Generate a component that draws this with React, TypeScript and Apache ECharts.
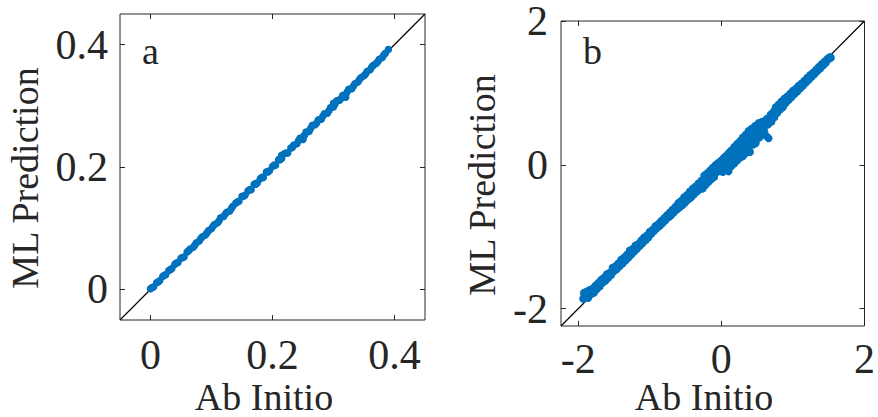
import React, { useEffect, useRef } from 'react';
import * as echarts from 'echarts';

// ---------- data ----------
const PANEL_LABELS = ['a', 'b'];
const X_TITLE = 'Ab Initio';
const Y_TITLE = 'ML Prediction';

const RANGE_A = [-0.05, 0.45];
const TICKS_A = [0, 0.2, 0.4];
const RANGE_B = [-2.24, 2];
const TICKS_B = [-2, 0, 2];

// panel a: [ab initio, ML prediction]
const POINTS_A = [
  [0, 0.001], [0.005, 0.004], [0.01, 0.011], [0.015, 0.014], [0.02, 0.021], [0.025, 0.024],
  [0.03, 0.031], [0.035, 0.034], [0.04, 0.041], [0.045, 0.044], [0.05, 0.051], [0.055, 0.053],
  [0.06, 0.061], [0.065, 0.066], [0.07, 0.069], [0.075, 0.076], [0.08, 0.079], [0.085, 0.086],
  [0.09, 0.089], [0.095, 0.096], [0.1, 0.099], [0.105, 0.106], [0.11, 0.109], [0.115, 0.117],
  [0.12, 0.119], [0.125, 0.126], [0.13, 0.128], [0.135, 0.136], [0.14, 0.141], [0.145, 0.144],
  [0.15, 0.152], [0.155, 0.154], [0.16, 0.161], [0.165, 0.163], [0.17, 0.172], [0.175, 0.174],
  [0.18, 0.181], [0.185, 0.183], [0.19, 0.192], [0.195, 0.194], [0.2, 0.201], [0.205, 0.203],
  [0.21, 0.212], [0.215, 0.214], [0.215, 0.219], [0.22, 0.222], [0.225, 0.223], [0.23, 0.231],
  [0.235, 0.236], [0.24, 0.238], [0.245, 0.247], [0.25, 0.249], [0.25, 0.245], [0.255, 0.257],
  [0.26, 0.258], [0.265, 0.268], [0.27, 0.269], [0.275, 0.277], [0.28, 0.278], [0.285, 0.287],
  [0.29, 0.288], [0.295, 0.297], [0.3, 0.298], [0.3, 0.304], [0.305, 0.308], [0.31, 0.309],
  [0.315, 0.317], [0.32, 0.318], [0.32, 0.314], [0.325, 0.327], [0.33, 0.328], [0.335, 0.336],
  [0.34, 0.339], [0.345, 0.346], [0.35, 0.349], [0.355, 0.356], [0.36, 0.359], [0.365, 0.366],
  [0.37, 0.369], [0.375, 0.376], [0.38, 0.379], [0.385, 0.386], [0.39, 0.392],
  [0.0025, 0.003], [0.0125, 0.012], [0.0225, 0.023], [0.0325, 0.032], [0.0425, 0.043],
  [0.0525, 0.052], [0.0625, 0.063], [0.0725, 0.072], [0.0825, 0.083], [0.0925, 0.092],
  [0.1025, 0.103], [0.1125, 0.112], [0.1225, 0.123], [0.1325, 0.132], [0.1425, 0.143],
  [0.1525, 0.152], [0.1625, 0.163], [0.1725, 0.172], [0.1825, 0.183], [0.1925, 0.192],
  [0.2025, 0.203], [0.2125, 0.212], [0.2225, 0.223], [0.2325, 0.232], [0.2425, 0.243],
  [0.2525, 0.252], [0.2625, 0.263], [0.2725, 0.272], [0.2825, 0.283], [0.2925, 0.292],
  [0.3025, 0.303], [0.3125, 0.312], [0.3225, 0.323], [0.3325, 0.332], [0.3425, 0.343],
  [0.3525, 0.352], [0.3625, 0.363], [0.3725, 0.372], [0.3825, 0.383],
];

// panel b: [ab initio, ML prediction]
const POINTS_B = [
  [-1.93, -1.86], [-1.92, -1.78], [-1.9, -1.83], [-1.88, -1.76], [-1.86, -1.85], [-1.84, -1.74],
  [-1.82, -1.8], [-1.8, -1.72], [-1.78, -1.78], [-1.76, -1.68], [-1.74, -1.73], [-1.72, -1.64],
  [-1.7, -1.69], [-1.68, -1.6], [-1.66, -1.64], [-1.64, -1.57], [-1.62, -1.61], [-1.6, -1.52],
  [-1.58, -1.57], [-1.56, -1.5], [-1.54, -1.53], [-1.52, -1.43], [-1.5, -1.48], [-1.48, -1.41],
  [-1.46, -1.45], [-1.44, -1.37], [-1.42, -1.41], [-1.4, -1.32], [-1.38, -1.37], [-1.36, -1.29],
  [-1.34, -1.33], [-1.32, -1.25], [-1.3, -1.29], [-1.28, -1.19], [-1.26, -1.25], [-1.24, -1.17],
  [-1.22, -1.21], [-1.2, -1.12], [-1.18, -1.17], [-1.16, -1.1], [-1.14, -1.13], [-1.12, -1.05],
  [-1.1, -1.09], [-1.08, -1.01], [-1.06, -1.05], [-1.04, -0.98], [-1.02, -1.01], [-1.0, -0.93],
  [-1.91, -1.81], [-1.87, -1.8], [-1.83, -1.77], [-1.79, -1.75], [-1.75, -1.71], [-1.71, -1.66],
  [-1.67, -1.62], [-1.63, -1.59], [-1.59, -1.54], [-1.55, -1.51], [-1.51, -1.46], [-1.47, -1.43],
  [-1.43, -1.39], [-1.39, -1.35], [-1.35, -1.31], [-1.31, -1.27], [-1.27, -1.22], [-1.23, -1.19],
  [-1.19, -1.15], [-1.15, -1.11], [-1.11, -1.07], [-1.07, -1.03], [-1.03, -0.99],
  [-0.98, -0.96], [-0.96, -0.9], [-0.94, -0.92], [-0.92, -0.85], [-0.9, -0.88], [-0.88, -0.82],
  [-0.86, -0.85], [-0.84, -0.78], [-0.82, -0.81], [-0.8, -0.74], [-0.78, -0.77], [-0.76, -0.7],
  [-0.74, -0.73], [-0.72, -0.66], [-0.7, -0.7], [-0.68, -0.62], [-0.66, -0.66], [-0.64, -0.58],
  [-0.62, -0.62], [-0.6, -0.53], [-0.58, -0.59], [-0.56, -0.5], [-0.54, -0.56], [-0.52, -0.45],
  [-0.5, -0.52], [-0.48, -0.42], [-0.46, -0.48], [-0.44, -0.37], [-0.42, -0.45], [-0.4, -0.33],
  [-0.38, -0.41], [-0.36, -0.3], [-0.34, -0.37], [-0.32, -0.26], [-0.3, -0.34],
  [-0.97, -0.93], [-0.93, -0.89], [-0.89, -0.85], [-0.85, -0.81], [-0.81, -0.77], [-0.77, -0.73],
  [-0.73, -0.69], [-0.69, -0.66], [-0.65, -0.62], [-0.61, -0.58], [-0.57, -0.54], [-0.53, -0.5],
  [-0.49, -0.46], [-0.45, -0.42], [-0.41, -0.39], [-0.37, -0.35], [-0.33, -0.31],
  [-0.28, -0.22], [-0.26, -0.33], [-0.24, -0.15], [-0.22, -0.28], [-0.2, -0.12], [-0.18, -0.24],
  [-0.16, -0.08], [-0.14, -0.2], [-0.12, -0.04], [-0.1, -0.17], [-0.08, 0.0], [-0.06, -0.1],
  [-0.04, 0.03], [-0.02, -0.08], [0.0, 0.06], [0.0, -0.03], [0.02, -0.1], [0.03, 0.09],
  [0.05, 0.0], [0.06, 0.12], [0.08, -0.06], [0.08, 0.05], [0.1, 0.16], [0.1, -0.09],
  [0.12, 0.08], [0.14, 0.2], [0.14, -0.02], [0.16, 0.1], [0.18, 0.25], [0.18, 0.02],
  [0.2, 0.14], [0.22, 0.29], [0.22, 0.06], [0.24, 0.18], [0.26, 0.33], [0.26, 0.1],
  [0.28, 0.22], [0.3, 0.38], [0.3, 0.12], [0.32, 0.25], [0.34, 0.42], [0.34, 0.16],
  [0.36, 0.3], [0.38, 0.47], [0.38, 0.2], [0.4, 0.18], [0.4, 0.34], [0.42, 0.5],
  [0.44, 0.28], [0.45, 0.4], [0.47, 0.54], [0.48, 0.3], [0.5, 0.44], [0.52, 0.58],
  [0.53, 0.38], [0.55, 0.48], [0.57, 0.6], [0.58, 0.42], [0.6, 0.53], [0.62, 0.62],
  [0.63, 0.4], [0.65, 0.56], [0.66, 0.37], [0.68, 0.67], [0.7, 0.6], [0.72, 0.71], [0.74, 0.66],
  [-0.25, -0.24], [-0.21, -0.2], [-0.17, -0.16], [-0.13, -0.12], [-0.09, -0.08], [-0.05, -0.04],
  [-0.01, 0.01], [0.04, 0.04], [0.07, 0.07], [0.11, 0.1], [0.15, 0.14], [0.19, 0.19],
  [0.23, 0.23], [0.27, 0.27], [0.31, 0.31], [0.35, 0.35], [0.39, 0.39], [0.43, 0.42],
  [0.46, 0.47], [0.49, 0.5], [0.51, 0.5], [0.54, 0.53], [0.56, 0.55], [0.59, 0.58],
  [0.61, 0.6], [0.64, 0.64], [0.67, 0.62], [0.69, 0.7], [0.71, 0.68], [0.73, 0.74],
  [0.2, 0.24], [0.24, 0.27], [0.28, 0.31], [0.32, 0.36], [0.36, 0.4], [0.4, 0.45],
  [0.44, 0.49], [0.48, 0.52], [0.52, 0.52], [0.56, 0.57], [0.6, 0.6], [0.1, 0.04],
  [0.16, 0.16], [0.22, 0.2], [0.3, 0.26], [0.34, 0.3], [0.38, 0.34], [0.42, 0.38],
  [0.46, 0.44], [0.5, 0.48], [0.54, 0.46], [0.58, 0.5], [0.62, 0.56], [-0.02, 0.0],
  [0.04, 0.1], [0.12, 0.18], [0.18, 0.18], [0.26, 0.24], [0.43, 0.33], [0.5, 0.36],
  [0.56, 0.44], [0.6, 0.46], [0.7, 0.64], [-0.2, -0.19], [-0.1, -0.06], [0.02, 0.03],
  [0.76, 0.8], [0.78, 0.72], [0.8, 0.84], [0.82, 0.77], [0.84, 0.88], [0.86, 0.8],
  [0.88, 0.92], [0.9, 0.86], [0.92, 0.95], [0.94, 0.9], [0.96, 0.99], [0.98, 0.94],
  [1.0, 1.03], [1.02, 0.98], [1.04, 1.06], [1.06, 1.02], [1.08, 1.1], [1.1, 1.06],
  [1.12, 1.13], [1.14, 1.1], [1.16, 1.17], [1.18, 1.14], [1.2, 1.21], [1.22, 1.18],
  [1.24, 1.25], [1.26, 1.22], [1.28, 1.28], [1.3, 1.26], [1.32, 1.32], [1.34, 1.3],
  [1.36, 1.36], [1.38, 1.34], [1.4, 1.4], [1.42, 1.38], [1.44, 1.43], [1.46, 1.42],
  [1.48, 1.47], [1.5, 1.47], [1.52, 1.5], [1.53, 1.49],
  [0.77, 0.76], [0.81, 0.8], [0.85, 0.84], [0.89, 0.89], [0.93, 0.92], [0.97, 0.96],
  [1.01, 1.0], [1.05, 1.04], [1.09, 1.08], [1.13, 1.12], [1.17, 1.15], [1.21, 1.2],
  [1.25, 1.24], [1.29, 1.27], [1.33, 1.31], [1.37, 1.35], [1.41, 1.39], [1.45, 1.44],
  [1.49, 1.48],
];

// ---------- style ----------
const FONT = 'Liberation Serif';
const INK = '#262626';
const BLUE = '#0072BD';

function makeAxes(kind: 'x' | 'y', gridIndex: number, range: number[], ticks: number[], margin: number) {
  const common = {
    type: 'value' as const,
    gridIndex,
    min: range[0],
    max: range[1],
    axisLine: { show: false, onZero: false },
    splitLine: { show: false },
    axisTick: { show: true, inside: true, length: 5, customValues: ticks, lineStyle: { color: INK, width: 1 } },
  };
  const label = {
    show: true, customValues: ticks, fontFamily: FONT, fontSize: 42, lineHeight: 32, color: INK,
    margin, formatter: (v: number) => String(v),
  };
  if (kind === 'x') {
    return [
      { ...common, position: 'bottom', axisLabel: { ...label, verticalAlign: 'middle' } },
      { ...common, position: 'top', axisLabel: { show: false } },
    ];
  }
  return [
    { ...common, position: 'left', axisLabel: label },
    { ...common, position: 'right', axisLabel: { show: false } },
  ];
}

export default function App() {
  const ref = useRef<HTMLDivElement>(null);
  useEffect(() => {
    if (!ref.current) return;
    const chart = echarts.init(ref.current, undefined, { renderer: 'svg' });
    const gridStyle = { show: true, borderColor: INK, borderWidth: 1, backgroundColor: 'transparent', containLabel: false };
    const textStyle = (size: number) => ({ fontFamily: FONT, fontSize: size, lineHeight: 30, fill: INK });
    chart.setOption({
      animation: false,
      grid: [
        { ...gridStyle, left: 120, top: 14, width: 305, height: 306 },
        { ...gridStyle, left: 561, top: 20, width: 306, height: 306 },
      ],
      xAxis: [...makeAxes('x', 0, RANGE_A, TICKS_A, 35), ...makeAxes('x', 1, RANGE_B, TICKS_B, 33)],
      yAxis: [...makeAxes('y', 0, RANGE_A, TICKS_A, 12), ...makeAxes('y', 1, RANGE_B, TICKS_B, 13)],
      series: [
        {
          type: 'line', xAxisIndex: 0, yAxisIndex: 0,
          data: [[RANGE_A[0], RANGE_A[0]], [RANGE_A[1], RANGE_A[1]]],
          showSymbol: false, lineStyle: { color: '#000', width: 1.2 }, silent: true, z: 1,
        },
        {
          type: 'scatter', xAxisIndex: 0, yAxisIndex: 0, data: POINTS_A,
          symbol: 'circle', symbolSize: 7.5, itemStyle: { color: BLUE, opacity: 1 }, z: 2,
        },
        {
          type: 'line', xAxisIndex: 2, yAxisIndex: 2,
          data: [[RANGE_B[0], RANGE_B[0]], [RANGE_B[1], RANGE_B[1]]],
          showSymbol: false, lineStyle: { color: '#000', width: 1.2 }, silent: true, z: 1,
        },
        {
          type: 'scatter', xAxisIndex: 2, yAxisIndex: 2, data: POINTS_B,
          symbol: 'circle', symbolSize: 8, itemStyle: { color: BLUE, opacity: 1 }, z: 2,
        },
      ],
      graphic: [
        { type: 'text', x: 142, y: 51, style: { text: PANEL_LABELS[0], ...textStyle(38), align: 'left', verticalAlign: 'middle' } },
        { type: 'text', x: 583, y: 51, style: { text: PANEL_LABELS[1], ...textStyle(38), align: 'left', verticalAlign: 'middle' } },
        { type: 'text', x: 264, y: 397, style: { text: X_TITLE, ...textStyle(38), align: 'center', verticalAlign: 'middle' } },
        { type: 'text', x: 704, y: 397, style: { text: X_TITLE, ...textStyle(38), align: 'center', verticalAlign: 'middle' } },
        { type: 'text', x: 25, y: 178, rotation: Math.PI / 2, style: { text: Y_TITLE, ...textStyle(38), align: 'center', verticalAlign: 'middle' } },
        { type: 'text', x: 482, y: 185, rotation: Math.PI / 2, style: { text: Y_TITLE, ...textStyle(38), align: 'center', verticalAlign: 'middle' } },
      ],
    });
    return () => chart.dispose();
  }, []);
  return (
    <div
      ref={ref}
      style={{ position: 'fixed', left: 0, top: 0, width: 878, height: 417, background: '#fff' }}
    />
  );
}
